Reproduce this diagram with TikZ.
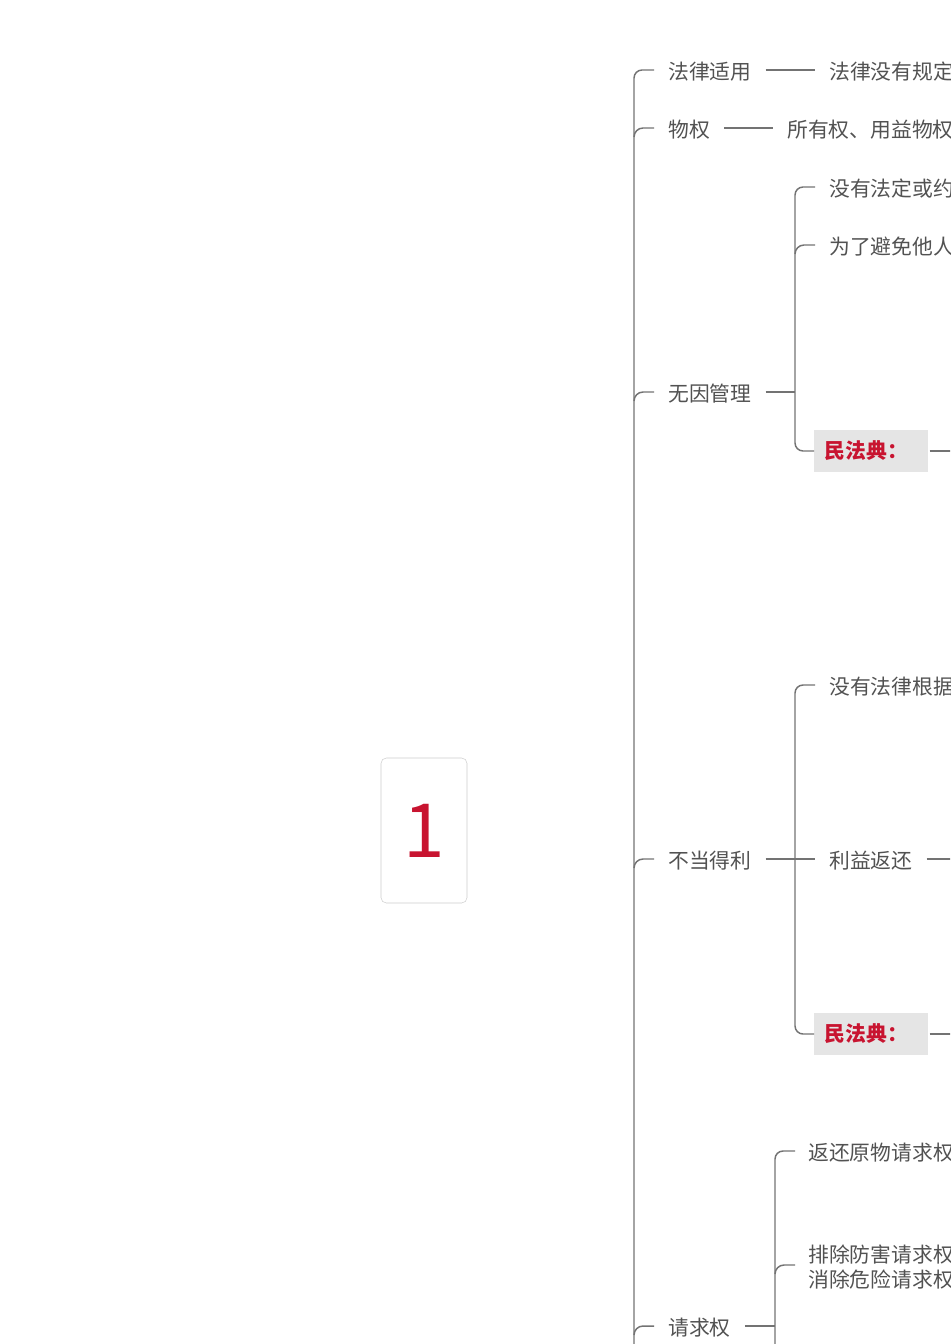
\documentclass[tikz,border=0pt]{standalone}
\usepackage{fontspec}
\setmainfont{Noto Sans CJK SC}
\definecolor{crim}{RGB}{200,20,48}
\begin{document}
\begin{tikzpicture}[x=0.75pt,y=-0.75pt,
  ln/.style={draw=black!55,line width=1.1pt,rounded corners=6pt},
  lbl/.style={anchor=west,inner sep=0pt,text=black!68,font=\fontsize{15.6}{18.5}\selectfont},
  lawbox/.style={anchor=west,fill=black!10,text=crim,font=\fontsize{15.6}{18.5}\selectfont\bfseries,minimum width=85.5pt,minimum height=31.5pt,inner sep=0pt,text width=78pt,align=left}]
\useasboundingbox (0,0) rectangle (950,1344);
\clip (0,0) rectangle (950,1344);
% root
\node[draw=black!20,rounded corners=4pt,minimum width=64.5pt,minimum height=108.75pt,inner sep=0pt,text=crim,font=\fontsize{56}{60}\selectfont] (root) at (424,830.5) {1};
% level 1
\node[lbl] (a) at (668,72) {法律适用};
\node[lbl] (b) at (668,130) {物权};
\node[lbl] (c) at (668,394) {无因管理};
\node[lbl] (d) at (668,861) {不当得利};
\node[lbl] (e) at (668,1328) {请求权};
\draw[ln] (654,70) -- (634,70) -- (634,1360);
\foreach \y in {128,392,859,1326} \draw[draw=black!55,line width=1.1pt] (654,\y) -- (643,\y) to[out=180,in=90] (634,\y+9);
% simple connectors
\node[lbl] (a1) at (829,72) {法律没有规定的};
\draw[ln] (a.east)+(14,-2) -- ++(63,-2);
\node[lbl] (b1) at (787,130) {所有权、用益物权};
\draw[ln] (b.east)+(14,-2) -- ++(63,-2);
% 无因管理
\node[lbl] (c1) at (829,189) {没有法定或约定义务};
\node[lbl] (c2) at (829,247) {为了避免他人利益};
\node[lawbox] (c3) at (814,451) {\hspace*{4pt}民法典：};
\draw[ln] (c.east)+(14,-2) -- (795,392);
\draw[ln] (815,187) -- (795,187) -- (795,451) -- (c3.west);
\draw[draw=black!55,line width=1.1pt] (815,245) -- (804,245) to[out=180,in=90] (795,254);
\draw[ln] (c3.east)+(1,0) -- (960,451);
% 不当得利
\node[lbl] (d1) at (829,687) {没有法律根据取得};
\node[lbl] (d2) at (829,861) {利益返还};
\node[lawbox] (d3) at (814,1034) {\hspace*{4pt}民法典：};
\draw[ln] (d.east)+(14,-2) -- (815,859);
\draw[ln] (815,685) -- (795,685) -- (795,1034) -- (d3.west);
\draw[ln] (d2.east)+(14,-2) -- (960,859);
\draw[ln] (d3.east)+(1,0) -- (960,1034);
% 请求权
\node[lbl] (e1) at (808,1153) {返还原物请求权};
\node[lbl,align=left] (e2) at (808,1267) {排除防害请求权\\消除危险请求权};
\draw[ln] (e.east)+(14,-2) -- (775,1326);
\draw[ln] (795,1151) -- (775,1151) -- (775,1360);
\draw[draw=black!55,line width=1.1pt] (795,1265) -- (784,1265) to[out=180,in=90] (775,1274);
\end{tikzpicture}
\end{document}
